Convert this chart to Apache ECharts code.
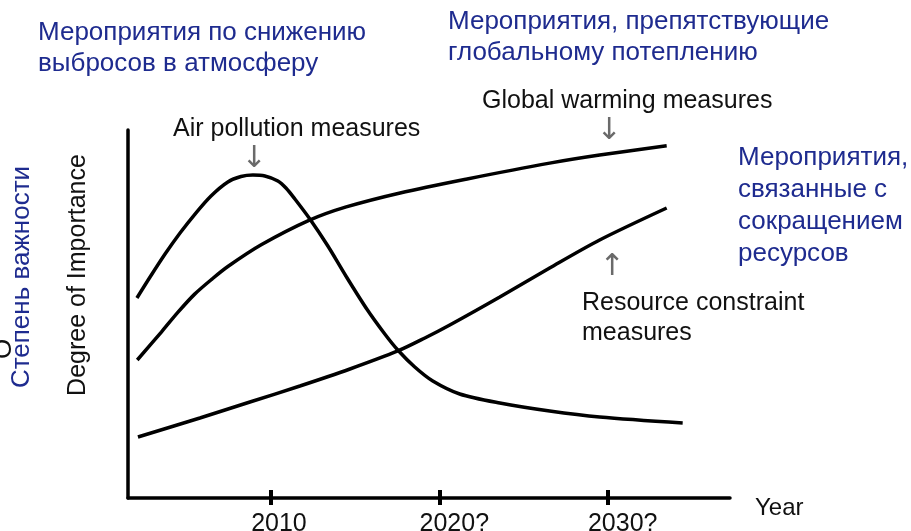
<!DOCTYPE html>
<html>
<head>
<meta charset="utf-8">
<script src="https://cdn.jsdelivr.net/npm/echarts@6/dist/echarts.min.js"></script>
<style>
html,body{margin:0;padding:0;background:#fff;}
#c{width:911px;height:531px;}
</style>
</head>
<body>
<div id="c"></div>
<script>
// ---- data ----
const tickYears = [2010, 2020, 2030];
const tickLabels = ['2010', '2020?', '2030?'];

const airYears   = [2002.03, 2002.81, 2003.70, 2004.59, 2005.48, 2006.43, 2007.43, 2008.21, 2008.92, 2009.63, 2010.40, 2010.88, 2011.41, 2012.30, 2013.37, 2014.44, 2015.68, 2016.75, 2017.52, 2018.53, 2019.60, 2021.20, 2023.58, 2026.54, 2029.51, 2034.44];
const airValues  = [54.35, 60.05, 66.30, 72.01, 77.17, 82.07, 85.87, 87.36, 87.77, 87.50, 86.14, 84.24, 81.25, 75.82, 68.48, 60.33, 51.36, 44.57, 40.22, 35.60, 31.79, 28.26, 25.82, 23.64, 22.01, 20.38];

const globalYears  = [2002.05, 2003.48, 2004.47, 2005.46, 2006.49, 2007.43, 2009.41, 2012.28, 2014.46, 2017.66, 2021.64, 2026.54, 2029.51, 2033.49];
const globalValues = [37.5, 45.1, 50.5, 55.4, 59.5, 62.9, 68.8, 75.5, 79.1, 82.9, 86.7, 91.0, 93.2, 95.7];

const resourceYears  = [2002.09, 2005.77, 2008.74, 2011.71, 2014.68, 2017.52, 2019.13, 2020.61, 2023.58, 2026.54, 2029.51, 2033.49];
const resourceValues = [16.58, 21.74, 26.09, 30.43, 35.05, 39.95, 43.48, 47.01, 54.62, 62.50, 70.11, 78.80];

const seriesNames = ['Air pollution measures', 'Global warming measures', 'Resource constraint measures'];

// ---- build ----
const zip = (xs, ys) => xs.map((x, i) => [x, ys[i]]);
const FONT = "'Liberation Sans', Arial, sans-serif";
const BLUE = '#1e2b8f';
const INK = '#111';

function txt(text, x, y, size, color) {
  return {
    type: 'text', x: x, y: y, silent: true,
    style: { text: text, fill: color, font: size + 'px ' + FONT, textAlign: 'left', textVerticalAlign: 'top' }
  };
}
function arrow(ch, x, y) {
  return {
    type: 'text', x: x, y: y, silent: true,
    style: { text: ch, fill: '#6a6a6a', font: "30px 'DejaVu Sans', sans-serif", textAlign: 'center', textVerticalAlign: 'middle' }
  };
}

const chart = echarts.init(document.getElementById('c'), null, { renderer: 'canvas' });
const lineSeries = (name, xs, ys) => ({
  name: name, type: 'line', xAxisIndex: 0, yAxisIndex: 0,
  data: zip(xs, ys), smooth: 0.3, showSymbol: false, symbol: 'none',
  lineStyle: { color: '#000', width: 3.5 }, silent: true, animation: false
});

chart.setOption({
  animation: false,
  backgroundColor: '#fff',
  grid: { left: 128, right: 181, top: 130, bottom: 33, outerBoundsMode: 'none', containLabel: false },
  xAxis: [
    {
      type: 'value', min: 2001.5, max: 2037.25, position: 'bottom',
      axisLine: { show: true, onZero: false, lineStyle: { color: '#000', width: 3.5 } },
      axisTick: { show: true, customValues: tickYears, length: 7, inside: false, lineStyle: { color: '#000', width: 4 } },
      axisLabel: {
        show: true, customValues: tickYears, margin: 14, align: 'left', padding: [0, 0, 0, -20],
        formatter: v => tickLabels[tickYears.indexOf(Math.round(v))] || '',
        color: INK, fontSize: 25, fontFamily: FONT
      },
      splitLine: { show: false }
    },
    {
      type: 'value', min: 2001.5, max: 2037.25, position: 'bottom',
      axisLine: { show: false, onZero: false },
      axisTick: { show: true, customValues: tickYears, length: 8, inside: true, lineStyle: { color: '#000', width: 4 } },
      axisLabel: { show: false },
      splitLine: { show: false }
    }
  ],
  yAxis: {
    type: 'value', min: 0, max: 100,
    axisLine: { show: true, onZero: false, lineStyle: { color: '#000', width: 3.5 } },
    axisTick: { show: false }, axisLabel: { show: false }, splitLine: { show: false }
  },
  series: [
    lineSeries(seriesNames[0], airYears, airValues),
    lineSeries(seriesNames[1], globalYears, globalValues),
    lineSeries(seriesNames[2], resourceYears, resourceValues)
  ],
  graphic: [
    // Russian headings
    txt('Мероприятия по снижению', 38, 20, 26, BLUE),
    txt('выбросов в атмосферу', 38, 51, 26, BLUE),
    txt('Мероприятия, препятствующие', 448, 9, 26, BLUE),
    txt('глобальному потеплению', 448, 40, 26, BLUE),
    txt('Мероприятия,', 738, 145, 26, BLUE),
    txt('связанные с', 738, 177, 26, BLUE),
    txt('сокращением', 738, 209, 26, BLUE),
    txt('ресурсов', 738, 241, 26, BLUE),
    // English annotations
    txt('Global warming measures', 482, 89, 25, INK),
    txt('Air pollution measures', 173, 117, 25, INK),
    txt('Resource constraint', 582, 291, 25, INK),
    txt('measures', 582, 321, 25, INK),
    txt('Year', 755, 496, 24, INK),
    // arrows
    arrow('↓', 254, 159),
    arrow('↓', 609, 131),
    arrow('↑', 612, 267),
    // rotated axis titles
    { type: 'text', x: 78, y: 275, rotation: Math.PI / 2, silent: true, style: { text: 'Degree of Importance', fill: INK, font: '25px ' + FONT, textAlign: 'center', textVerticalAlign: 'middle' } },
    { type: 'text', x: 22, y: 277, rotation: Math.PI / 2, silent: true, style: { text: 'Степень важности', fill: BLUE, font: '26px ' + FONT, textAlign: 'center', textVerticalAlign: 'middle' } },
    { type: 'text', x: 4, y: 349, rotation: Math.PI / 2, silent: true, style: { text: 'О', fill: INK, font: '26px ' + FONT, textAlign: 'center', textVerticalAlign: 'middle' } }
  ]
});
</script>
</body>
</html>
